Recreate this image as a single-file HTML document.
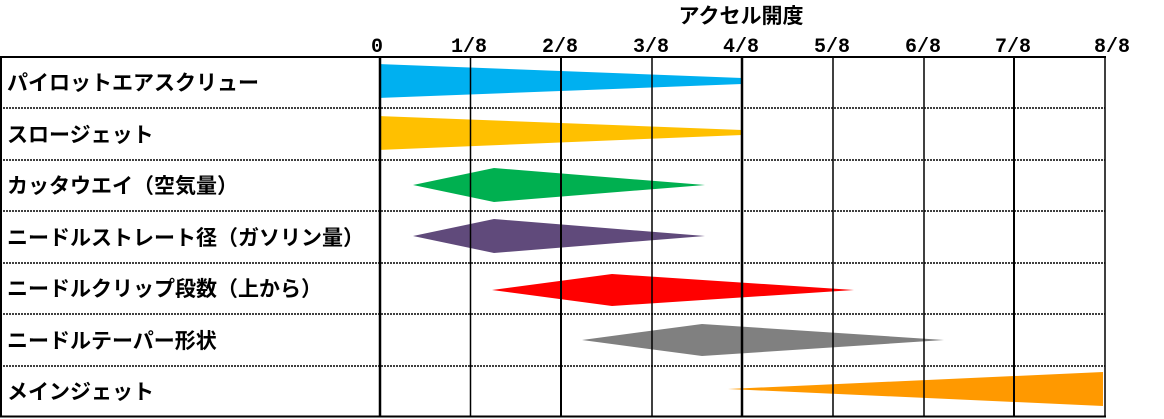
<!DOCTYPE html>
<html><head><meta charset="utf-8"><style>
html,body{margin:0;padding:0;background:#fff;}
body{width:1164px;height:419px;overflow:hidden;position:relative;font-family:"Liberation Sans","Noto Sans CJK JP",sans-serif;}
</style></head><body>
<svg width="1164" height="419" xmlns="http://www.w3.org/2000/svg" style="position:absolute;left:0;top:0">
<g font-family="'Noto Sans CJK JP',sans-serif" font-weight="bold" fill="#000">
<text x="741" y="23" font-size="21" text-anchor="middle">アクセル開度</text>
<g font-size="20" font-family="'Liberation Mono','Noto Sans CJK JP',monospace">
<text x="371" y="52">0</text>
<text x="469" y="52" text-anchor="middle">1/8</text>
<text x="560" y="52" text-anchor="middle">2/8</text>
<text x="651" y="52" text-anchor="middle">3/8</text>
<text x="741" y="52" text-anchor="middle">4/8</text>
<text x="832" y="52" text-anchor="middle">5/8</text>
<text x="923" y="52" text-anchor="middle">6/8</text>
<text x="1013" y="52" text-anchor="middle">7/8</text>
<text x="1112" y="52" text-anchor="middle">8/8</text>
</g>
<g font-size="21">
<text x="7" y="90">パイロットエアスクリュー</text>
<text x="7" y="142">スロージェット</text>
<text x="7" y="193">カッタウエイ（空気量）</text>
<text x="7" y="245">ニードルストレート径（ガソリン量）</text>
<text x="7" y="296">ニードルクリップ段数（上から）</text>
<text x="7" y="348">ニードルテーパー形状</text>
<text x="7" y="399">メインジェット</text>
</g>
</g>
<polygon points="379,64 742,78 742,84 379,98" fill="#00B0F0"/>
<polygon points="379,116 742,130 742,135 379,150" fill="#FFC000"/>
<polygon points="413,185 494,168 705,185 494,202" fill="#00B050"/>
<polygon points="413,236 494,219 705,236 494,253" fill="#604A7B"/>
<polygon points="492,290 612,274 854,290 612,306" fill="#FF0000"/>
<polygon points="582,340 702,324 944,340 702,356" fill="#808080"/>
<polygon points="728,389 1103,372 1103,406" fill="#FF9900"/>
<g stroke="#000" stroke-width="1.5" stroke-dasharray="2,1">
<line x1="0" y1="108" x2="1105" y2="108"/>
<line x1="0" y1="160" x2="1105" y2="160"/>
<line x1="0" y1="211" x2="1105" y2="211"/>
<line x1="0" y1="263" x2="1105" y2="263"/>
<line x1="0" y1="314" x2="1105" y2="314"/>
<line x1="0" y1="366" x2="1105" y2="366"/>
</g>
<g stroke="#000">
<line x1="0" y1="57" x2="1106" y2="57" stroke-width="2"/>
<line x1="0" y1="416.5" x2="1106" y2="416.5" stroke-width="2"/>
<line x1="1" y1="56" x2="1" y2="417" stroke-width="2"/>
<line x1="380" y1="56" x2="380" y2="417" stroke-width="2.5"/>
<line x1="470.5" y1="56" x2="470.5" y2="417" stroke-width="1.5"/>
<line x1="561" y1="56" x2="561" y2="417" stroke-width="2"/>
<line x1="652" y1="56" x2="652" y2="417" stroke-width="1.5"/>
<line x1="742" y1="56" x2="742" y2="417" stroke-width="2.5"/>
<line x1="833" y1="56" x2="833" y2="417" stroke-width="1.5"/>
<line x1="924" y1="56" x2="924" y2="417" stroke-width="1.5"/>
<line x1="1014" y1="56" x2="1014" y2="417" stroke-width="2"/>
<line x1="1105" y1="56" x2="1105" y2="417" stroke-width="1.5"/>
</g>
</svg>
</body></html>
